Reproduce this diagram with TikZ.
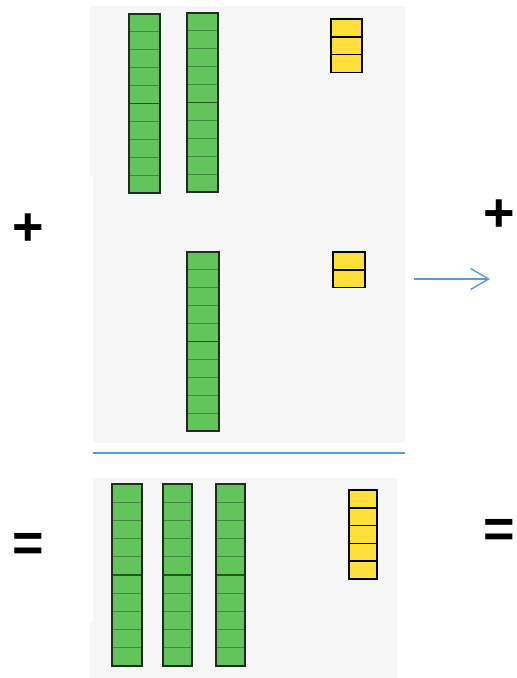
\documentclass[tikz,border=0pt]{standalone}
\usepackage{fontspec}
\setmainfont{Liberation Sans}
\usetikzlibrary{arrows.meta}
\definecolor{panelbg}{HTML}{F6F6F6}
\definecolor{rodgreen}{RGB}{98,196,90}
\definecolor{rodline}{RGB}{62,140,58}
\definecolor{rodmid}{RGB}{30,90,30}
\definecolor{rodedge}{RGB}{30,45,30}
\definecolor{unityellow}{RGB}{255,223,58}
\definecolor{arrowblue}{RGB}{91,155,213}
\newcommand{\tenrod}[4]{%
  \fill[rodgreen] (#1,#2) rectangle (#3,#4);
  \foreach \k in {1,2,3,4,6,7,8,9}{%
    \draw[rodline, line width=0.9pt] ({#1},{#2+\k*(#4-#2)/10}) -- ({#3},{#2+\k*(#4-#2)/10});}
  \draw[rodmid, line width=1.1pt] ({#1},{#2+5*(#4-#2)/10}) -- ({#3},{#2+5*(#4-#2)/10});
  \draw[rodedge, line width=1.8pt] (#1,#2) rectangle (#3,#4);
}
\newcommand{\unitstack}[4]{% x1 y1 x2 n
  \fill[unityellow] (#1,#2) rectangle (#3,{#2+#4*17.8});
  \foreach \k in {1,...,#4}{%
    \draw[black, line width=1.6pt] (#1,{#2+(\k-1)*17.8}) rectangle (#3,{#2+\k*17.8});}
}
\tikzset{sign/.style={font=\fontsize{54}{54}\selectfont\bfseries, inner sep=0pt, text=black}}
\begin{document}
\begin{tikzpicture}[x=1pt,y=-1pt]
\useasboundingbox (0,0) rectangle (517,678);
\clip (0,0) rectangle (517,678);
% panels
\fill[panelbg] (90,6) rectangle (405,176);
\fill[panelbg] (93,176) rectangle (405,443);
\fill[panelbg] (93,478) rectangle (397,622);
\fill[panelbg] (90,622) rectangle (397,678);
% top addend
\tenrod{129}{14}{160}{193}
\tenrod{187}{13}{218}{192}
\unitstack{331}{19}{362}{3}
% second addend
\tenrod{187}{252}{219}{431}
\unitstack{333}{252}{365}{2}
% separator line
\coordinate (sepL) at (93,453);
\coordinate (sepR) at (405,453);
\draw[arrowblue, line width=1.2pt] (sepL) -- (sepR);
% result
\tenrod{112}{484}{142}{666}
\tenrod{163}{484}{192}{666}
\tenrod{216}{484}{245}{666}
\unitstack{349}{490}{377}{5}
% arrow
\coordinate (arrS) at (414,279);
\coordinate (arrE) at (490,279);
\draw[arrowblue, line width=1.4pt, -{Straight Barb[length=18pt,width=21pt]}] (arrS) -- (arrE);
% signs
\node[sign] (plusL) at (28.5,229.5) {+};
\node[sign] (plusR) at (499,216) {+};
\node[sign] (eqL) at (28.5,547) {=};
\node[sign] (eqR) at (499,533) {=};
\end{tikzpicture}
\end{document}
